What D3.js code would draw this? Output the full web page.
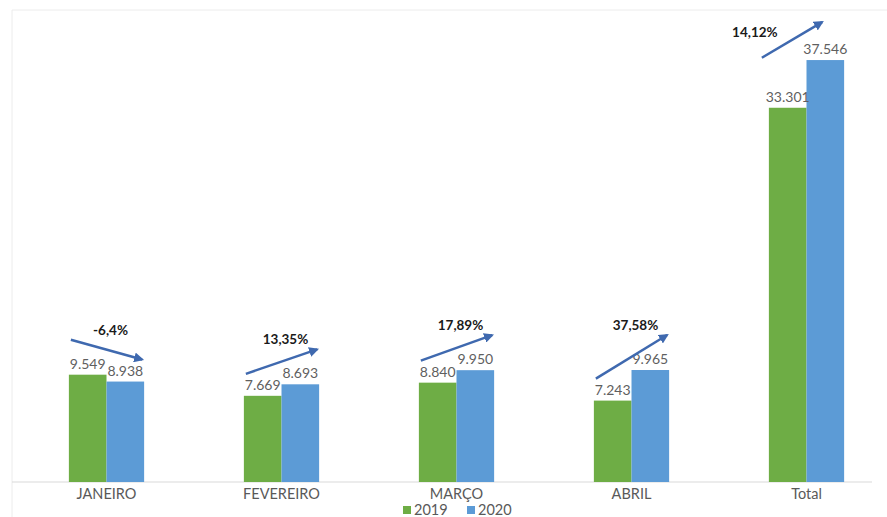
<!DOCTYPE html>
<html>
<head>
<meta charset="utf-8">
<script src="https://cdn.jsdelivr.net/npm/d3@7"></script>
<style>
  body { margin: 0; background: #fff; }
  text { font-family: Lato, "Open Sans", sans-serif; }
</style>
</head>
<body>
<script>
  const categories = ['JANEIRO', 'FEVEREIRO', 'MARÇO', 'ABRIL', 'Total'];
  const years = ['2019', '2020'];
  const values2019 = [9549, 7669, 8840, 7243, 33301];
  const values2020 = [8938, 8693, 9950, 9965, 37546];
  const changes = ['-6,4%', '13,35%', '17,89%', '37,58%', '14,12%'];

  const width = 887;
  const height = 517;
  const colors = { '2019': '#6EAD45', '2020': '#5C9BD6' };
  const arrowColor = '#3F69AF';

  const fmt = (v) => d3.format(',')(v).replace(/,/g, '.');

  const svg = d3.select('body').append('svg')
    .attr('width', width)
    .attr('height', height);

  svg.append('defs').append('marker')
    .attr('id', 'head')
    .attr('viewBox', '0 0 10 10')
    .attr('refX', 8).attr('refY', 5)
    .attr('markerWidth', 4).attr('markerHeight', 4)
    .attr('orient', 'auto')
    .append('path')
    .attr('d', 'M0,0L10,5L0,10z')
    .attr('fill', arrowColor);

  // faint chart frame
  svg.append('path')
    .attr('d', 'M12,520V10H887')
    .attr('fill', 'none')
    .attr('stroke', '#ececec');

  const x0 = d3.scaleBand().domain(categories).range([19, 894]).paddingInner(0.57).paddingOuter(0.285);
  const x1 = d3.scaleBand().domain(years).range([0, x0.bandwidth()]);
  const y = d3.scaleLinear().domain([0, 42000]).range([482, 10]);

  const rows = categories.map((c, i) => ({
    cat: c, '2019': values2019[i], '2020': values2020[i], change: changes[i]
  }));

  // baseline
  svg.append('line')
    .attr('x1', 12).attr('x2', 872)
    .attr('y1', y(0)).attr('y2', y(0))
    .attr('stroke', '#d9d9d9');

  const groups = svg.append('g').selectAll('g')
    .data(rows).join('g')
    .attr('transform', (d) => `translate(${x0(d.cat)},0)`);

  groups.selectAll('rect')
    .data((d) => years.map((k) => ({ k, v: d[k] })))
    .join('rect')
    .attr('x', (d) => x1(d.k))
    .attr('y', (d) => y(d.v))
    .attr('width', x1.bandwidth())
    .attr('height', (d) => y(0) - y(d.v))
    .attr('fill', (d) => colors[d.k]);

  groups.selectAll('text.val')
    .data((d) => years.map((k) => ({ k, v: d[k] })))
    .join('text')
    .attr('class', 'val')
    .attr('x', (d) => x1(d.k) + x1.bandwidth() / 2)
    .attr('y', (d) => y(d.v) - 6)
    .attr('text-anchor', 'middle')
    .attr('font-size', 14)
    .attr('fill', '#5f5f5f')
    .text((d) => fmt(d.v));

  // trend arrows: the higher end of each pair is lifted more
  const isTotal = (d) => d.cat === 'Total';
  const lift = (d, k) => {
    const high = d[k] === Math.max(d['2019'], d['2020']);
    if (isTotal(d)) return high ? 38 : 50;
    return high ? 35 : 22;
  };
  const ax1 = (d) => isTotal(d) ? -7 : 2;
  const ax2 = (d) => x0.bandwidth() - (isTotal(d) ? 22 : 2);
  const ay1 = (d) => y(d['2019']) - lift(d, '2019');
  const ay2 = (d) => y(d['2020']) - lift(d, '2020');

  groups.append('line')
    .attr('x1', ax1)
    .attr('x2', ax2)
    .attr('y1', ay1)
    .attr('y2', ay2)
    .attr('stroke', arrowColor)
    .attr('stroke-width', 2.5)
    .attr('marker-end', 'url(#head)');

  groups.append('text')
    .attr('x', (d) => isTotal(d) ? -14 : (ax1(d) + ax2(d)) / 2 + 4)
    .attr('y', (d) => isTotal(d) ? ay2(d) + 15 : Math.min(ay1(d), ay2(d)) - 5)
    .attr('text-anchor', 'middle')
    .attr('font-size', 13.5)
    .attr('font-weight', 'bold')
    .attr('fill', '#1a1a1a')
    .text((d) => d.change);

  // category labels
  svg.append('g').selectAll('text')
    .data(categories).join('text')
    .attr('x', (d) => x0(d) + x0.bandwidth() / 2)
    .attr('y', 499)
    .attr('text-anchor', 'middle')
    .attr('font-size', 14.5)
    .attr('fill', '#595959')
    .text((d) => d);

  // legend
  const legend = svg.append('g').attr('transform', 'translate(403,515)');
  const items = legend.selectAll('g').data(years).join('g')
    .attr('transform', (d, i) => `translate(${i * 64},0)`);
  items.append('rect')
    .attr('x', 0).attr('y', -9)
    .attr('width', 8).attr('height', 8)
    .attr('fill', (d) => colors[d]);
  items.append('text')
    .attr('x', 11).attr('y', 0)
    .attr('font-size', 14.5)
    .attr('fill', '#595959')
    .text((d) => d);
</script>
</body>
</html>
